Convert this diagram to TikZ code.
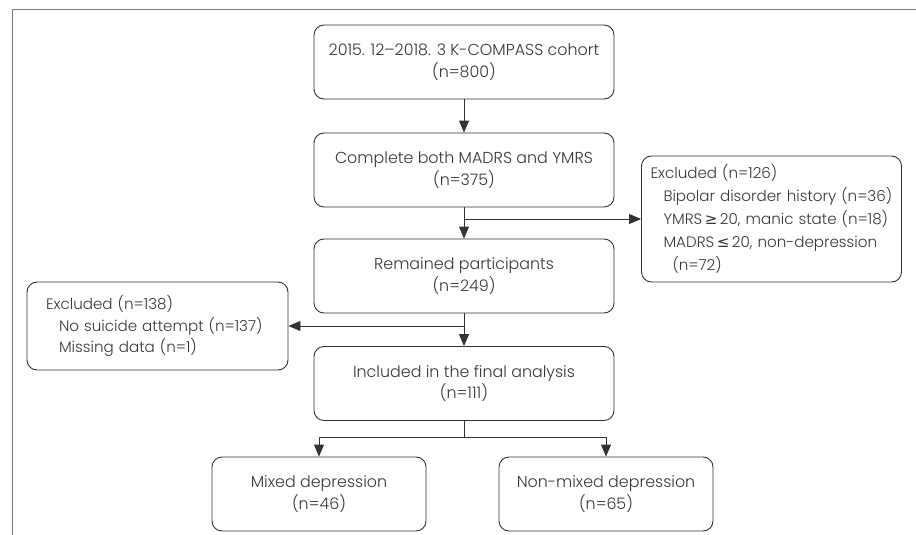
\documentclass[tikz,border=0pt]{standalone}
\usepackage{fontspec}
\IfFontExistsTF{Poppins Light}{\setmainfont{Poppins Light}}{\setmainfont{Poppins}}
\newfontfamily\symf{DejaVu Sans}
\usetikzlibrary{arrows.meta}
\definecolor{ln}{HTML}{333333}
\definecolor{tx}{HTML}{383838}
\definecolor{fr}{HTML}{7A7A7A}
\newlength\wA
\newlength\wB
\AtBeginDocument{%
  \settowidth\wA{\fontsize{10}{12}\selectfont Complete both MADRS and YMRS}%
  \settowidth\wB{\fontsize{10}{12}\selectfont Bipolar disorder history (n=36)}%
  \pgfmathsetmacro\fa{10*258/\wA}%
  \pgfmathsetmacro\fb{10*226/\wB}%
  \global\let\fa\fa \global\let\fb\fb}
\newcommand\fsz{\fontsize{\fa}{21.5}\selectfont}
\newcommand\fsx{\fontsize{\fb}{23}\selectfont}
\newcommand\fsl{\fontsize{\fb}{21.5}\selectfont}
\tikzset{
  box/.style={draw=ln, line width=0.9pt, rounded corners=10pt, minimum width=300pt,
    minimum height=74pt, align=center, text=tx, font=\fsz, inner sep=0pt},
  smallbox/.style={box, minimum width=214pt},
  xbox/.style={draw=ln, line width=0.9pt, rounded corners=10pt, align=left, text=tx,
    inner ysep=0pt},
  conn/.style={draw=ln, line width=0.9pt},
  arr/.style={conn, -{Triangle[length=12pt,width=10pt]}},
}
\begin{document}
\begin{tikzpicture}[x=1pt,y=-1pt]
\useasboundingbox (0,0) rectangle (916,535);
\draw[fr, line width=1pt] (916,10) -- (12,10) -- (12,535);

\node[box] (b1) at (464,62) {2015. 12–2018. 3 K-COMPASS cohort\\(n=800)};
\node[box] (b2) at (464,170) {Complete both MADRS and YMRS\\(n=375)};
\node[box] (b3) at (464,276) {Remained participants\\(n=249)};
\node[box] (b4) at (464,383.5) {Included in the final analysis\\(n=111)};
\node[smallbox] (m1) at (319,494) {Mixed depression\\(n=46)};
\node[smallbox] (m2) at (606,494) {Non-mixed depression\\(n=65)};

\node[xbox, font=\fsx, text width=242pt, inner xsep=9pt, minimum height=126pt] (xr) at (771.5,219)
  {Excluded (n=126)\\
   \hspace*{13pt}Bipolar disorder history (n=36)\\
   \hspace*{13pt}YMRS\,{\symf ≥}\,20, manic state (n=18)\\
   \hspace*{13pt}MADRS\,{\symf ≤}\,20, non-depression\\
   \hspace*{22pt}(n=72)};
\node[xbox, font=\fsl, text width=223pt, inner xsep=19pt, minimum height=88pt] (xl) at (157.5,326)
  {Excluded (n=138)\\
   \hspace*{13pt}No suicide attempt (n=137)\\
   \hspace*{13pt}Missing data (n=1)};

\coordinate (j3) at (464,437);
\draw[arr] (b1) -- (b2);
\draw[arr] (b2) -- (b3);
\draw[arr] (b2.south |- xr.west) -- (xr.west);
\draw[arr] (b3) -- (b4);
\draw[arr] (b3.south |- xl.east) -- (xl.east);
\draw[conn] (b4.south) -- (j3);
\draw[arr] (j3) -| (m1.north);
\draw[arr] (j3) -| (m2.north);
\end{tikzpicture}
\end{document}
